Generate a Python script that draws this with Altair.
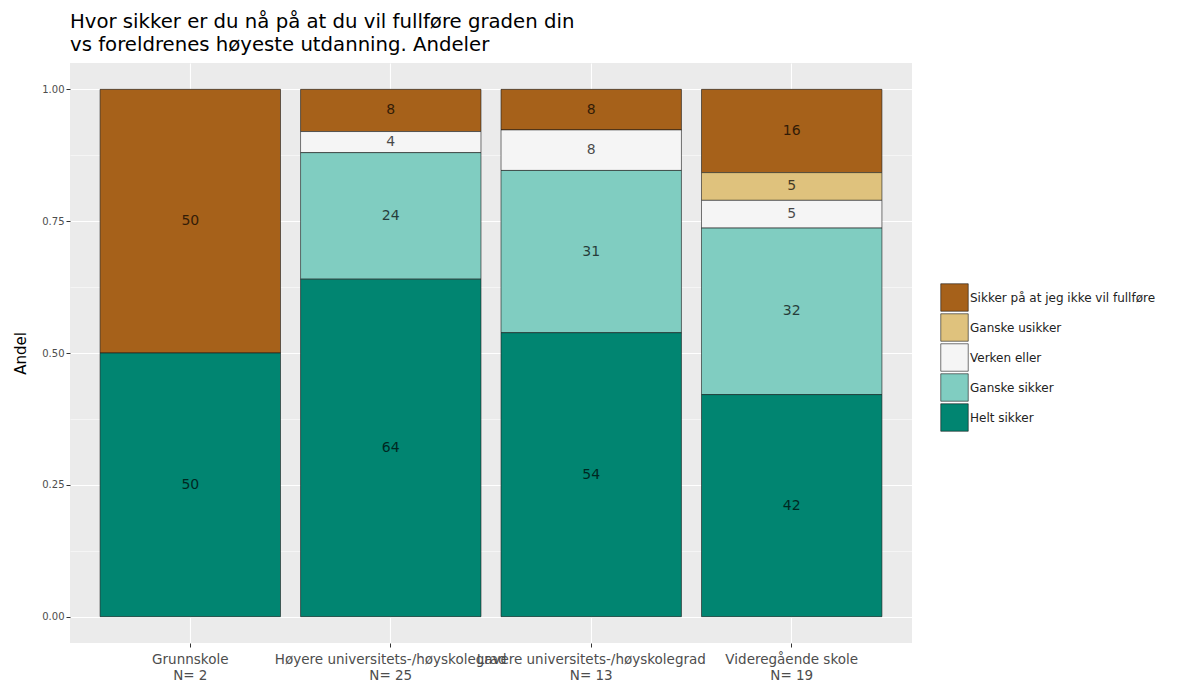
import altair as alt
import pandas as pd

groups = [
    "Grunnskole\nN= 2",
    "Høyere universitets-/høyskolegrad\nN= 25",
    "Lavere universitets-/høyskolegrad\nN= 13",
    "Videregående skole\nN= 19",
]
answers = [
    "Sikker på at jeg ikke vil fullføre",
    "Ganske usikker",
    "Verken eller",
    "Ganske sikker",
    "Helt sikker",
]
colors = ["#A6611A", "#DFC27D", "#F5F5F5", "#80CDC1", "#018571"]

# shares per group (same order as groups)
sikker_ikke = [0.50, 0.08, 0.0769, 0.1579]
ganske_usikker = [0.0, 0.0, 0.0, 0.0526]
verken = [0.0, 0.04, 0.0769, 0.0526]
ganske_sikker = [0.0, 0.24, 0.3077, 0.3158]
helt_sikker = [0.50, 0.64, 0.5385, 0.4211]

series = [sikker_ikke, ganske_usikker, verken, ganske_sikker, helt_sikker]
rows = []
for a_i, (ans, vals) in enumerate(zip(answers, series)):
    for g, v in zip(groups, vals):
        if v > 0:
            rows.append({"group": g, "answer": ans, "share": v, "order": len(answers) - a_i})
df = pd.DataFrame(rows)

FONT = "DejaVu Sans"
ytick_values = [0, 0.125, 0.25, 0.375, 0.5, 0.625, 0.75, 0.875, 1.0]

y_axis = alt.Axis(
    title="Andel",
    values=ytick_values,
    labelExpr="(datum.value * 4) % 1 == 0 ? format(datum.value, '.2f') : ''",
    gridColor="white",
    gridWidth={"condition": {"test": "(datum.value * 4) % 1 != 0", "value": 0.5}, "value": 1.1},
    tickSize={"condition": {"test": "(datum.value * 4) % 1 != 0", "value": 0}, "value": 4},
    tickColor="#333333",
    tickWidth=1,
    domain=False,
    labelColor="#4D4D4D",
    labelFontSize=10,
    labelPadding=2,
    titleFontSize=15,
    titleFontWeight="normal",
    titleColor="black",
    titlePadding=13,
)

x_axis = alt.Axis(
    title=None,
    labelExpr="split(datum.label, '\\n')",
    labelAngle=0,
    labelColor="#4D4D4D",
    labelFontSize=13.5,
    labelLineHeight=16,
    labelLimit=400,
    labelPadding=5,
    labelOverlap=False,
    grid=True,
    gridColor="white",
    gridWidth=1.1,
    tickSize=4,
    tickColor="#333333",
    domain=False,
)

x_enc = alt.X(
    "group:N",
    sort=groups,
    scale=alt.Scale(paddingInner=0.1, paddingOuter=0.15),
    axis=x_axis,
)
y_scale = alt.Scale(domain=[-0.05, 1.05], nice=False, zero=False)

base = alt.Chart(df).transform_stack(
    stack="share",
    groupby=["group"],
    as_=["y0", "y1"],
    sort=[alt.SortField("order", "ascending")],
).transform_calculate(
    mid="(datum.y0 + datum.y1) / 2",
    lab="format(round(datum.share * 100), 'd')",
)

bars = base.mark_bar(stroke="#1a1a1a", strokeWidth=0.6).encode(
    x=x_enc,
    y=alt.Y("y0:Q", scale=y_scale, axis=y_axis),
    y2="y1:Q",
    color=alt.Color(
        "answer:N",
        scale=alt.Scale(domain=answers, range=colors),
        legend=alt.Legend(
            title=None,
            orient="none",
            legendX=870,
            legendY=220,
            symbolType="square",
            symbolSize=756,
            symbolStrokeColor="#1a1a1a",
            symbolStrokeWidth=0.6,
            symbolOpacity=1,
            labelFontSize=12,
            labelColor="#222222",
            labelOffset=1,
            labelLimit=300,
            rowPadding=-6,
            padding=0,
        ),
    ),
)

labels = base.mark_text(fontSize=14, font=FONT, color="black", opacity=0.7).encode(
    x=x_enc,
    y=alt.Y("mid:Q", scale=y_scale, axis=y_axis),
    text="lab:N",
)

chart = (
    alt.layer(bars, labels)
    .properties(
        width=842,
        height=580,
        title=alt.TitleParams(
            [
                "Hvor sikker er du nå på at du vil fullføre graden din",
                "vs foreldrenes høyeste utdanning. Andeler",
            ],
            anchor="start",
            frame="group",
            fontSize=19.7,
            fontWeight="normal",
            font=FONT,
            color="black",
            lineHeight=23,
            offset=8,
        ),
        autosize=alt.AutoSizeParams(type="none"),
        padding={"left": 62, "top": 55, "right": 250, "bottom": 42},
    )
    .configure(font=FONT)
    .configure_view(fill="#EBEBEB", stroke=None)
)

chart.save("out.html", embed_options={"renderer": "svg", "actions": False})
